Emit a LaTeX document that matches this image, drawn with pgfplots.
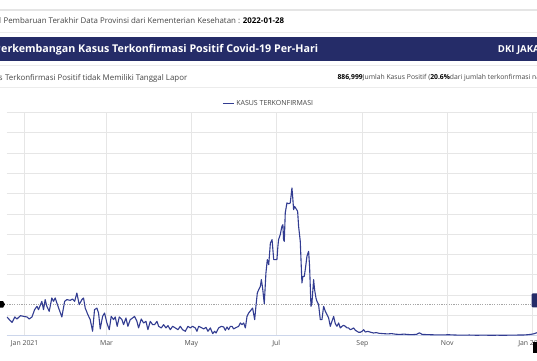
\documentclass[border=0pt]{standalone}
\usepackage{fontspec}
\setmainfont{Open Sans}
\usepackage{pgfplots}
\usepackage{pgfplotstable}
\pgfplotsset{compat=1.18}
\definecolor{navy}{RGB}{37,44,104}
\definecolor{lineblue}{RGB}{50,60,145}
\definecolor{gridc}{RGB}{230,230,230}
\definecolor{axisc}{RGB}{204,214,235}
\definecolor{txt}{RGB}{70,70,70}
\definecolor{ticktxt}{RGB}{80,80,80}

\pgfplotstableread{
day val
-12.7 1840
-11 1580
-9 1310
-7 1840
-5.5 1640
-3 1970
-0.7 1900
1.7 1840
3.3 1640
5.3 1840
7.2 2560
8.9 2890
10 2560
12.4 3380
13.6 2560
14.8 3550
16 2890
17.7 2400
19.6 3710
20.8 3380
22 3710
23.2 3220
24.9 2560
26.8 1840
28.8 3380
30.4 3550
32.8 3480
34.5 3610
36 3380
37.6 4200
39.3 3050
41.2 3550
42.4 3710
43.6 2720
45.5 2070
47.2 1580
48.9 430
50.3 2560
52 2720
53.2 2230
54.4 660
56.1 1900
57.5 2230
59.2 1250
60.9 590
62.3 1900
64 1580
65.2 1840
66.6 920
68.1 1840
70 1580
71.2 1080
72.9 1740
74.3 920
76 1580
77.7 1740
79.1 1900
80.8 1410
82 760
83.9 1640
85.6 1250
87.3 1410
88.7 590
90.4 1410
92.1 1080
93.5 1080
95.2 1410
96.4 920
98.3 760
100 1080
101.7 760
103.1 990
104.8 590
106.5 920
108.4 760
110.3 590
112 920
113.6 590
115.6 430
117.5 920
119.2 760
120.8 920
122.8 760
124 430
125.2 920
127.6 760
128.8 660
130.5 820
131.9 430
133.6 760
135.3 200
136.7 430
137.7 260
139.6 760
141.5 920
143.2 850
144.4 530
145.6 850
146.8 590
148 920
149.2 920
150.4 660
151.6 760
154 920
155.2 1250
156.4 1080
157.6 1250
158.8 760
160 1900
161.2 2230
163.1 2560
164 2720
165.5 1580
166.4 2890
167.4 4200
168.4 4530
169.6 4860
170.3 5520
171.2 4700
172.4 3150
173.6 6170
174.6 7490
175.6 6990
176.8 9130
178 9460
179.2 7490
180.4 7490
181.5 7490
182.2 8800
182.7 9460
183.9 9950
185.1 10770
185.8 10930
186.3 9460
186.8 9290
187.5 12080
188.7 13070
189.9 13000
191.1 13070
192.3 14550
193 13400
193.5 12410
194.2 12740
195.4 12480
196.4 12250
197.1 10770
198.3 9290
199.5 5190
200.2 5840
201.2 5840
201.9 6500
203.1 7810
204.3 8310
205 6830
206 2890
206.7 3220
207.9 5520
208.6 4530
209.6 3710
210.3 3380
211.5 3050
212.7 1580
213.9 1580
215.1 2890
216.3 2400
217.5 2070
218.7 1740
219.9 920
221.1 1410
222.3 1900
223.5 1180
224.7 920
225.9 1250
227.1 760
228.3 920
229.5 1020
230.7 920
231.9 760
233.1 760
234.3 590
235.5 660
236.7 760
237.9 530
239.1 430
240.3 330
241.5 330
242.7 430
243.9 590
245.1 360
247 420
249 330
251 260
253 300
255 230
258 200
261 170
264 200
267 140
270 120
273 150
276 110
279 100
282 130
284 280
286 120
290 100
295 80
300 70
305 90
310 60
315 50
320 60
325 40
330 50
335 40
340 45
345 40
350 50
355 60
360 70
363 110
366 170
368 260
370 360
}\covid

\begin{document}
\begin{tikzpicture}[x=1pt,y=1pt]
\useasboundingbox (0,0) rectangle (537,360);
\clip (0,0) rectangle (537,360);
\fill[white] (0,0) rectangle (537,360);
% card borders
\draw[gray!20, line width=1.5pt] (0,350) -- (537,350);
\draw[gray!15, line width=1pt] (0,328) -- (537,328);
\fill[navy] (0,299) rectangle (537,322.7);
\draw[gray!15, line width=1pt] (0,295) -- (537,295);
\draw[gray!15, line width=1pt] (0,272.5) -- (537,272.5);
% row 1
\node[anchor=base east, inner sep=0pt, text=txt, font=\fontsize{7.9}{9}\selectfont] at (1.3,336.6) {Tanggal};
\node[anchor=base west, inner sep=0pt, text=txt, font=\fontsize{7.9}{9}\selectfont] at (1.3,336.6) {\ Pembaruan Terakhir Data Provinsi dari Kementerian Kesehatan : \textbf{\color{black}2022-01-28}};
% banner
\node[anchor=base east, inner sep=0pt, text=white, font=\fontsize{10.7}{12}\selectfont\bfseries] at (1,307.2) {P};
\node[anchor=base west, inner sep=0pt, text=white, font=\fontsize{10.7}{12}\selectfont\bfseries] at (1,307.2) {erkembangan Kasus Terkonfirmasi Positif Covid-19 Per-Hari};
\node[anchor=base west, inner sep=0pt, text=white, font=\fontsize{9.6}{11}\selectfont\bfseries] at (497.7,307.4) {DKI JAKARTA};
% row 3
\node[anchor=base east, inner sep=0pt, text=txt, font=\fontsize{7.9}{9}\selectfont] at (2.9,279.9) {Jumlah Kasus};
\node[anchor=base west, inner sep=0pt, text=txt, font=\fontsize{7.9}{9}\selectfont] at (2.9,279.9) {\ Terkonfirmasi Positif tidak Memiliki Tanggal Lapor};
\node[anchor=base west, inner sep=0pt, text=txt, font=\fontsize{6.8}{8}\selectfont] at (337.3,280.1) {\textbf{\color{black}886,999}Jumlah Kasus Positif (\textbf{\color{black}20.6\%}dari jumlah terkonfirmasi nasional)};

\begin{axis}[
  at={(5,24)}, anchor=south west,
  width=532pt, height=223.3pt, scale only axis,
  xmin=-12.7, xmax=370, ymin=0, ymax=22000,
  scaled y ticks=false,
  axis x line*=bottom, axis y line*=left,
  x axis line style={draw=axisc, line width=0.8pt, -},
  y axis line style={draw=none},
  xtick={0,59,120,181,243,304,365},
  xticklabels={Jan 2021, Mar, May, Jul, Sep, Nov, Jan 2022},
  ytick={0,2000,...,22000},
  yticklabels={},
  major tick length=0pt,
  grid=major,
  major grid style={draw=gridc, line width=0.6pt},
  extra y ticks={3120},
  extra y tick labels={},
  extra y tick style={grid=major, major grid style={draw=gray!70, dash pattern=on 1.2pt off 1.2pt, line width=0.5pt}},
  xticklabel style={font=\fontsize{6.9}{8}\selectfont, text=ticktxt, yshift=-1.5pt},
  legend style={at={(axis description cs:0.492,1)}, anchor=south, yshift=2pt, draw=none, fill=none, font=\fontsize{7}{8}\selectfont, text=txt, inner sep=1pt},
  legend image code/.code={\draw[#1, line width=1pt] (0,0) -- (11pt,0);},
]
\addplot[lineblue, line width=1.1pt, line join=round] table[x=day, y=val] {\covid};
\addlegendentry{KASUS TERKONFIRMASI}
\end{axis}
% crosshair labels
\fill[black] (-2,52.3) -- (3,52.3) -- (5,55.6) -- (3,59) -- (-2,59) -- cycle;
\fill[navy, rounded corners=1pt] (531.7,52.7) rectangle (541,66.7);
\fill[black] (532.7,6.7) rectangle (541,18.3);
\end{tikzpicture}
\end{document}
